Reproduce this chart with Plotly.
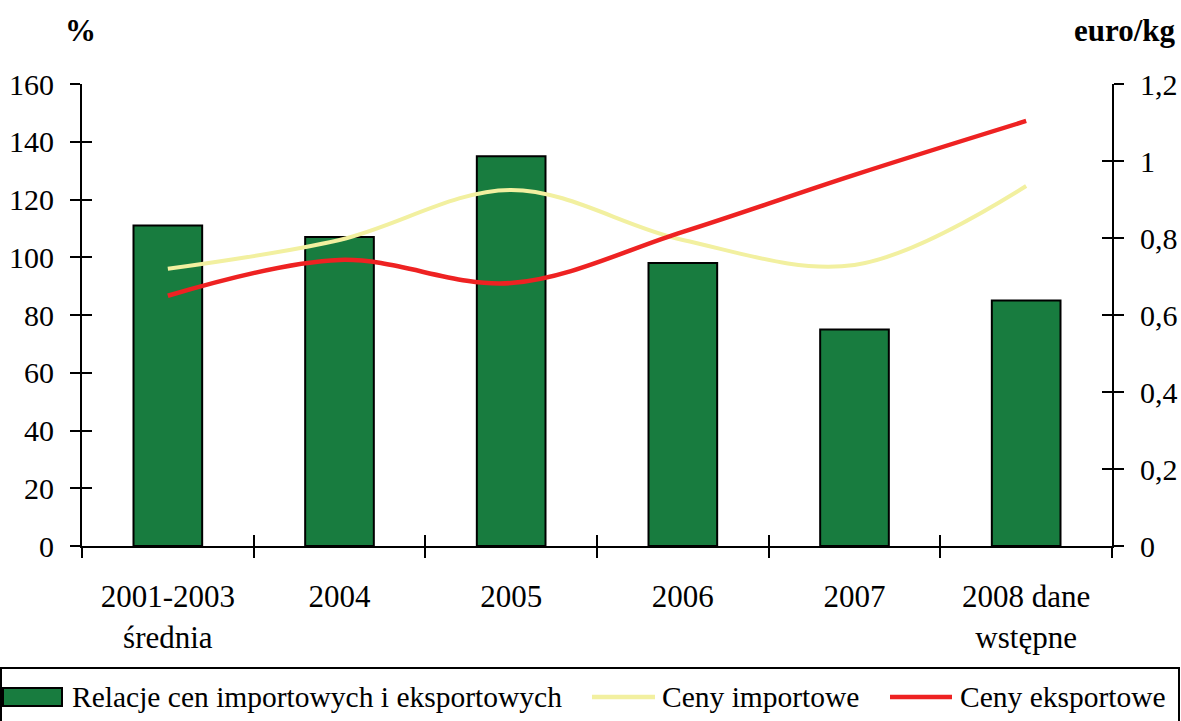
import plotly.graph_objects as go

categories = ["2001-2003<br>średnia", "2004", "2005", "2006", "2007", "2008 dane<br>wstępne"]
relacje = [111, 107, 135, 98, 75, 85]
ceny_import = [0.72, 0.795, 0.925, 0.795, 0.73, 0.935]
ceny_eksport = [0.65, 0.743, 0.683, 0.816, 0.964, 1.104]
series_names = ["Relacje cen importowych i eksportowych", "Ceny importowe", "Ceny eksportowe"]
colors = ["#187C3F", "#F2F0A0", "#EE2222"]

xs = list(range(len(categories)))
bounds = [i - 0.5 for i in range(len(categories) + 1)]

FONT = "Liberation Serif, Times New Roman, serif"
L, R, T, B = 82, 69, 84, 175
W, H = 1181, 721
PW, PH = W - L - R, H - T - B


def px(x):
    return (x - L) / PW


def py(y):
    return (H - B - y) / PH


fig = go.Figure()
fig.add_trace(go.Bar(x=xs, y=relacje, name=series_names[0],
                     marker=dict(color=colors[0], line=dict(color="black", width=2)),
                     width=0.4, showlegend=False))
fig.add_trace(go.Scatter(x=xs, y=ceny_import, name=series_names[1], yaxis="y2", showlegend=False,
                         mode="lines", line=dict(color=colors[1], width=4, shape="spline", smoothing=1.0)))
fig.add_trace(go.Scatter(x=xs, y=ceny_eksport, name=series_names[2], yaxis="y2", showlegend=False,
                         mode="lines", line=dict(color=colors[2], width=4.5, shape="spline", smoothing=1.0)))

xr = [-0.5, len(categories) - 0.5]
common_y = dict(showgrid=False, zeroline=False, ticklen=10, tickwidth=2, tickcolor="black",
                automargin=False)

fig.update_layout(
    width=W, height=H,
    margin=dict(l=L, r=R, t=T, b=B),
    plot_bgcolor="white", paper_bgcolor="white",
    separators=", ",
    font=dict(family=FONT, size=30, color="black"),
    showlegend=False,
    xaxis=dict(range=xr, tickvals=xs, ticktext=categories, ticks="", showgrid=False,
               zeroline=False, showline=True, linecolor="black", linewidth=2,
               ticklabelstandoff=22, tickfont=dict(size=31), automargin=False),
    xaxis2=dict(overlaying="x", range=xr, tickvals=bounds, showticklabels=False, ticks="outside",
                ticklen=11, tickwidth=2, tickcolor="black", showgrid=False, zeroline=False,
                showline=False, side="bottom", anchor="y", automargin=False),
    xaxis3=dict(overlaying="x", range=xr, tickvals=bounds, showticklabels=False, ticks="inside",
                ticklen=11, tickwidth=2, tickcolor="black", showgrid=False, zeroline=False,
                showline=False, side="bottom", anchor="y", automargin=False),
    yaxis=dict(range=[0, 160], dtick=20, ticks="outside", showline=True, linecolor="black",
               linewidth=2, ticklabelstandoff=10, tickfont=dict(size=30), **common_y),
    yaxis3=dict(overlaying="y", range=[0, 160], dtick=20, ticks="inside", showticklabels=False,
                side="left", showline=False, **common_y),
    yaxis2=dict(overlaying="y", side="right", range=[0, 1.2], dtick=0.2, ticks="outside",
                showline=True, linecolor="black", linewidth=2, ticklabelstandoff=10,
                tickfont=dict(size=30), **common_y),
    yaxis4=dict(overlaying="y", side="right", range=[0, 1.2], dtick=0.2, ticks="inside",
                showticklabels=False, showline=False, **common_y),
)

# invisible helper traces so overlay axes render
fig.add_trace(go.Scatter(x=[xr[0]], y=[0], xaxis="x2", yaxis="y3", mode="markers",
                         marker=dict(opacity=0), showlegend=False, hoverinfo="skip"))
fig.add_trace(go.Scatter(x=[xr[0]], y=[0], xaxis="x3", yaxis="y4", mode="markers",
                         marker=dict(opacity=0), showlegend=False, hoverinfo="skip"))

fig.add_annotation(text="<b>%</b>", xref="paper", yref="paper", x=px(80), y=py(31),
                   xanchor="center", yanchor="middle", showarrow=False, font=dict(size=31))
fig.add_annotation(text="<b>euro/kg</b>", xref="paper", yref="paper", x=px(1178), y=py(31),
                   xanchor="right", yanchor="middle", showarrow=False, font=dict(size=31))

# legend frame
fig.add_shape(type="rect", xref="paper", yref="paper",
              x0=px(1), x1=px(1179), y0=py(735), y1=py(668),
              line=dict(color="black", width=2), fillcolor="rgba(0,0,0,0)")

# legend entries
leg_y = 697
leg_items = [  # swatch x0, x1, text x
    (3, 62, 70),
    (592, 655, 660),
    (890, 952, 958),
]
for i, (sx0, sx1, tx) in enumerate(leg_items):
    if i == 0:
        fig.add_shape(type="rect", xref="paper", yref="paper",
                      x0=px(sx0), x1=px(sx1), y0=py(leg_y + 9), y1=py(leg_y - 9),
                      line=dict(color="black", width=2), fillcolor=colors[0])
    else:
        fig.add_shape(type="line", xref="paper", yref="paper",
                      x0=px(sx0), x1=px(sx1), y0=py(leg_y), y1=py(leg_y),
                      line=dict(color=colors[i], width=4.5))
    fig.add_annotation(text=series_names[i], xref="paper", yref="paper", x=px(tx), y=py(leg_y),
                       xanchor="left", yanchor="middle", showarrow=False,
                       font=dict(size=29.5))

fig.write_html("out.html", config={"displayModeBar": False},
               post_script="document.body.style.margin='0';document.body.style.overflow='hidden';")
